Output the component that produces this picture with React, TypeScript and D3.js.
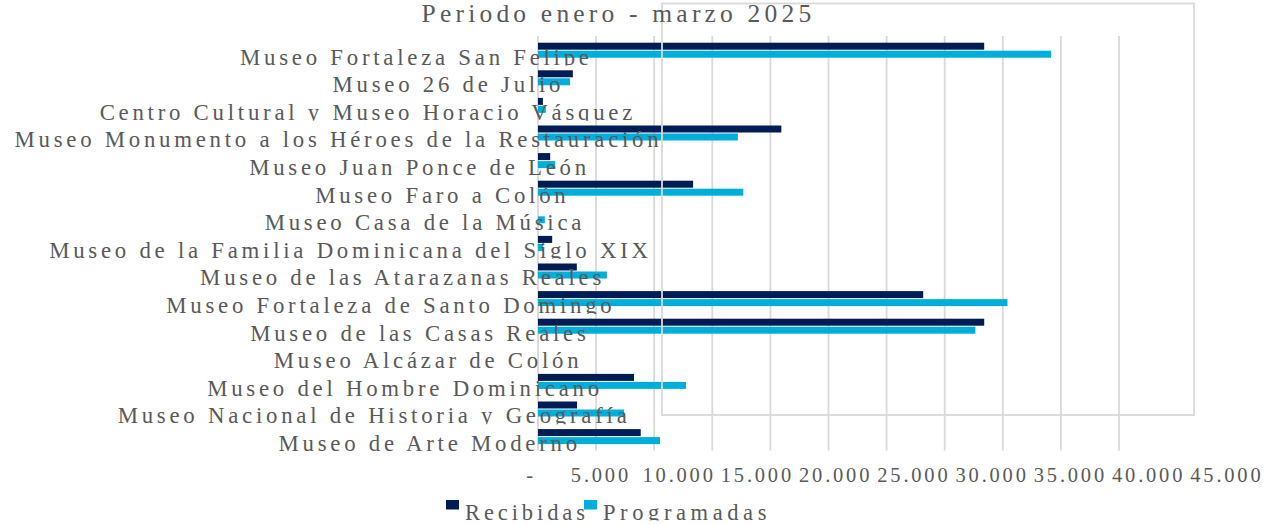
import React, { useEffect, useRef } from "react";
import * as d3 from "d3";

// ---------------- data ----------------
const title = "Periodo enero - marzo 2025";
const categories = [
  "Museo Fortaleza San Felipe",
  "Museo 26 de Julio",
  "Centro Cultural y Museo Horacio Vásquez",
  "Museo Monumento a los Héroes de la Restauración",
  "Museo Juan Ponce de León",
  "Museo Faro a Colón",
  "Museo Casa de la Música",
  "Museo de la Familia Dominicana del Siglo XIX",
  "Museo de las Atarazanas Reales",
  "Museo Fortaleza de Santo Domingo",
  "Museo de las Casas Reales",
  "Museo Alcázar de Colón",
  "Museo del Hombre Dominicano",
  "Museo Nacional de Historia y Geografía",
  "Museo de Arte Moderno",
];
const recibidas = [38400, 3000, 420, 20940, 1050, 13350, 0, 1220, 3340, 33150, 38400, 0, 8260, 3360, 8840];
const programadas = [44150, 2750, 670, 17200, 1480, 17670, 590, 420, 5930, 40400, 37640, 0, 12740, 7400, 10500];
const seriesNames = ["Recibidas", "Programadas"];
const gridValues = [0, 5000, 10000, 15000, 20000, 25000, 30000, 35000, 40000, 45000, 50000];
const tickValues = [0, 5000, 10000, 15000, 20000, 25000, 30000, 35000, 40000, 45000];

// ---------------- style ----------------
const W = 1272;
const H = 525;
const FONT = "'Liberation Serif', 'Times New Roman', serif";
const TEXT = "#595959";
const GRID = "#d9d9d9";
const COLORS = ["#001c54", "#00aedb"];

const locale = d3.formatLocale({ decimal: ",", thousands: ".", grouping: [3], currency: ["", ""] });
const fmt = (v: number) => (v === 0 ? "-" : locale.format(",.0f")(v));

export default function App() {
  const ref = useRef<SVGSVGElement | null>(null);

  useEffect(() => {
    const svg = d3.select(ref.current);
    svg.selectAll("*").remove();

    const x = d3.scaleLinear().domain([0, 50000]).range([538, 1119]);
    const y = d3.scaleBand<string>().domain(categories).range([36.5, 450.5]);
    const bw = y.bandwidth();
    // tick labels are spread wider than the grid in the reference
    const tickX = d3.scaleLinear().domain([5000, 45000]).range([599.5, 1225.5]);

    const defs = svg.append("defs");

    // gridlines
    svg
      .append("g")
      .selectAll("line")
      .data(gridValues)
      .join("line")
      .attr("x1", (d) => x(d))
      .attr("x2", (d) => x(d))
      .attr("y1", 36)
      .attr("y2", 450.5)
      .attr("stroke", GRID)
      .attr("stroke-width", 1.8);

    // bars
    const series = [recibidas, programadas];
    const barH = 7;
    series.forEach((vals, si) => {
      svg
        .append("g")
        .selectAll("rect")
        .data(categories.map((c, i) => ({ c, v: vals[i] })))
        .join("rect")
        .attr("x", x(0))
        .attr("width", (d) => Math.max(0, x(d.v) - x(0)))
        .attr("y", (d) => (y(d.c) as number) + bw / 2 + (si === 0 ? -7.6 : 0.4))
        .attr("height", barH)
        .attr("fill", COLORS[si]);
    });

    // stray plot-area border drawn over the bars
    svg
      .append("rect")
      .attr("x", 662)
      .attr("y", 3.5)
      .attr("width", 532)
      .attr("height", 411.5)
      .attr("fill", "none")
      .attr("stroke", GRID)
      .attr("stroke-width", 1.8);

    // category labels (clipped to their band)
    const lg = svg.append("g");
    categories.forEach((c, i) => {
      const bottom = (y(c) as number) + bw;
      const id = `clip-cat-${i}`;
      defs
        .append("clipPath")
        .attr("id", id)
        .append("rect")
        .attr("x", 0)
        .attr("y", y(c) as number)
        .attr("width", W)
        .attr("height", bw + 1.4);
      const t = lg
        .append("text")
        .attr("clip-path", `url(#${id})`)
        .attr("y", bottom + 0.5)
        .attr("font-family", FONT)
        .attr("font-size", 22.8)
        .attr("letter-spacing", 3.75)
        .attr("fill", TEXT)
        .text(c);
      const w = (t.node() as SVGTextElement).getComputedTextLength();
      t.attr("x", 509.5 - 0.764 * w);
    });

    // value tick labels
    svg
      .append("g")
      .selectAll("text")
      .data(tickValues)
      .join("text")
      .attr("x", (d) => (d === 0 ? 536 : tickX(d) + 1.4))
      .attr("y", 481.7)
      .attr("text-anchor", (d) => (d === 0 ? "end" : "middle"))
      .attr("font-family", FONT)
      .attr("font-size", 20.5)
      .attr("letter-spacing", 2.8)
      .attr("fill", TEXT)
      .text((d) => fmt(d));

    // title
    svg
      .append("text")
      .attr("x", 616.5 + 2)
      .attr("y", 22.3)
      .attr("text-anchor", "middle")
      .attr("font-family", FONT)
      .attr("font-size", 25.5)
      .attr("letter-spacing", 4.2)
      .attr("fill", TEXT)
      .text(title);

    // legend
    defs
      .append("clipPath")
      .attr("id", "clip-legend")
      .append("rect")
      .attr("x", 0)
      .attr("y", 490)
      .attr("width", W)
      .attr("height", 30.5);
    const legend = svg.append("g").attr("clip-path", "url(#clip-legend)");
    const legendX = [446, 584];
    seriesNames.forEach((name, i) => {
      legend
        .append("rect")
        .attr("x", legendX[i])
        .attr("y", 500)
        .attr("width", 13)
        .attr("height", 9.5)
        .attr("fill", COLORS[i]);
      legend
        .append("text")
        .attr("x", legendX[i] + 19)
        .attr("y", 519.5)
        .attr("font-family", FONT)
        .attr("font-size", 22.5)
        .attr("letter-spacing", i === 0 ? 3.9 : 4.6)
        .attr("fill", TEXT)
        .text(name);
    });
  }, []);

  return (
    <svg
      ref={ref}
      width={W}
      height={H}
      style={{ position: "absolute", left: 0, top: 0, background: "#fff" }}
    />
  );
}
